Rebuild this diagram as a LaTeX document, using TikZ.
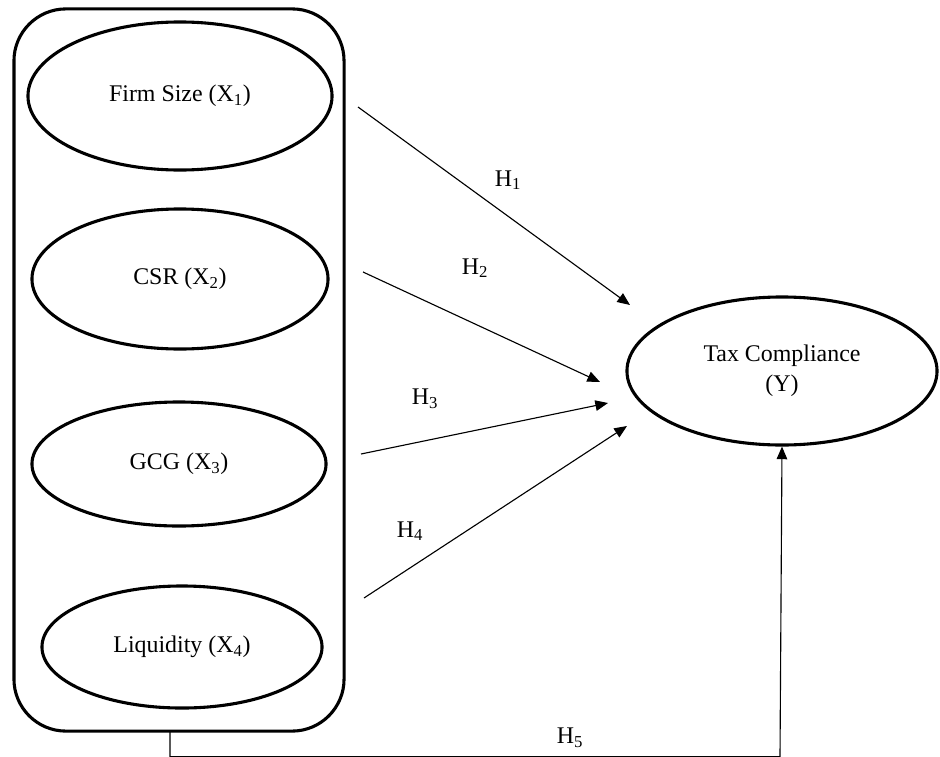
\documentclass[tikz,border=0pt]{standalone}
\usepackage{fontspec}
\setmainfont{Liberation Serif}
\usetikzlibrary{arrows.meta, shapes.geometric, positioning}

\begin{document}
\begin{tikzpicture}[
      % GLOBAL CFG
      x=0.025cm, y=-0.025cm,
      font=\fontsize{17}{21}\selectfont,
      >={Triangle[length=9pt,width=7.5pt]},
      % Styles
      var/.style={% For the variables
        ellipse,
        draw,
        line width=2.2pt,
        inner sep=1pt,
        align=center
      },
      group/.style={% Box round the independent variables
        rectangle,
        rounded corners=1.3cm,
        draw,
        line width=2.2pt,
        minimum width=8.25cm,
        minimum height=18.05cm
      },
      hyp/.style={% For the hypothesis labels
        inner sep=0pt
      },
      arrowfunction/.style={% Arrows for the hypotheses
        line width=0.8pt,
        ->,
      }
      ]

      \useasboundingbox (0,0) rectangle (940,756);

      % Independent variables in their box
      \node [group] (indep) at (179,370) {};
      \node [var, minimum width=7.6cm, minimum height=3.7cm] (firmsize) at (180,96) {Firm Size (X\textsubscript{1})};
      \node [var, minimum width=7.4cm, minimum height=3.5cm] (csr) at (180,279) {CSR (X\textsubscript{2})};
      \node [var, minimum width=7.35cm, minimum height=3.1cm] (gcg) at (179,464) {GCG (X\textsubscript{3})};
      \node [var, minimum width=7.0cm, minimum height=3.05cm] (liquidity) at (182,647) {Liquidity (X\textsubscript{4})};

      % Dependent variable
      \node [var, minimum width=7.75cm, minimum height=3.7cm] (taxcomp) at (782,371) {Tax Compliance\\(Y)};

      % Hypotheses
      \coordinate (h1s) at (358,107);
      \coordinate (h1e) at (630,305);
      \coordinate (h2s) at (363,272);
      \coordinate (h2e) at (600,382);
      \coordinate (h3s) at (361,454);
      \coordinate (h3e) at (608,403);
      \coordinate (h4s) at (364,598);
      \coordinate (h4e) at (627,426);
      \draw [arrowfunction] (h1s) -- (h1e);
      \draw [arrowfunction] (h2s) -- (h2e);
      \draw [arrowfunction] (h3s) -- (h3e);
      \draw [arrowfunction] (h4s) -- (h4e);
      \node [hyp] (lh1) at (508,180) {H\textsubscript{1}};
      \node [hyp] (lh2) at (475,268) {H\textsubscript{2}};
      \node [hyp] (lh3) at (425,399) {H\textsubscript{3}};
      \node [hyp] (lh4) at (410,531) {H\textsubscript{4}};

      % Simultaneous effect
      \coordinate (h5s) at (170,731);
      \coordinate (h5turn) at (780,756.6);
      \draw [arrowfunction] (h5s) |- (h5turn) -- (taxcomp.south);
      \node [hyp] (lh5) at (570,738) {H\textsubscript{5}};

    \end{tikzpicture}
\end{document}
